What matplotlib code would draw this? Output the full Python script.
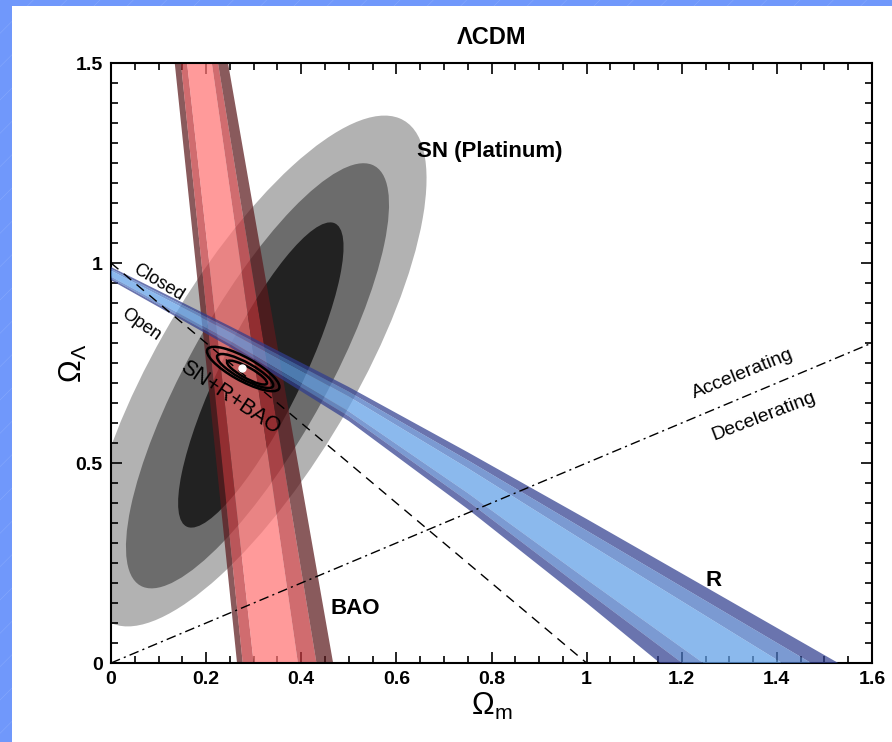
import numpy as np
import matplotlib
matplotlib.use("Agg")
import matplotlib.pyplot as plt
from matplotlib.patches import Ellipse, Polygon, Rectangle
from matplotlib.colors import to_rgb

plt.rcParams['font.family'] = ['Liberation Sans', 'DejaVu Sans']
plt.rcParams['mathtext.fontset'] = 'custom'
plt.rcParams['mathtext.rm'] = 'Liberation Sans'
plt.rcParams['hatch.linewidth'] = 0.4

# SN (Platinum) confidence ellipses: (cx, cy, semi-major, semi-minor, angle deg), outer -> inner
sn_ellipses = [
    (0.305, 0.730, 0.70, 0.215, 64.5),
    (0.308, 0.718, 0.58, 0.150, 65.5),
    (0.315, 0.720, 0.41, 0.088, 68.0),
]
sn_colors = ['#b2b2b2', '#6c6c6c', '#222222']

# BAO band: edge x-positions (left to right) at each y
bao_y = [0.0, 0.75, 1.5]
bao_edges = [
    [0.265, 0.200, 0.134],
    [0.277, 0.212, 0.147],
    [0.300, 0.230, 0.160],
    [0.393, 0.302, 0.212],
    [0.432, 0.328, 0.225],
    [0.467, 0.356, 0.246],
]
bao_colors = ['#8a5a5c', '#d06c70', '#ff9a9a', '#d06c70', '#8a5a5c']

# R (CMB shift) band: edges as (x, y) polylines from the top-left down to the x axis, upper -> lower
r_edges = [
    [(0.0, 0.990), (0.25, 0.842), (0.5, 0.690), (0.75, 0.527), (1.0, 0.360), (1.25, 0.190), (1.529, 0.0)],
    [(0.0, 0.9855), (0.25, 0.835), (0.5, 0.678), (0.75, 0.507), (1.0, 0.331), (1.472, 0.0)],
    [(0.0, 0.981), (0.25, 0.827), (0.5, 0.666), (0.75, 0.487), (1.0, 0.301), (1.411, 0.0)],
    [(0.0, 0.966), (0.25, 0.805), (0.5, 0.629), (0.75, 0.425), (1.0, 0.209), (1.245, 0.0)],
    [(0.0, 0.9615), (0.25, 0.797), (0.5, 0.617), (0.75, 0.405), (1.0, 0.179), (1.201, 0.0)],
    [(0.0, 0.957), (0.25, 0.790), (0.5, 0.605), (0.75, 0.385), (1.0, 0.150), (1.154, 0.0)],
]
r_colors = ['#6a74ae', '#7b9bd2', '#8cb9ee', '#7b9bd2', '#6a74ae']

# combined SN+R+BAO contours
combo_ellipses = [
    (0.278, 0.735, 0.090, 0.028, -34.0),
    (0.282, 0.730, 0.070, 0.020, -34.0),
    (0.286, 0.726, 0.050, 0.013, -34.0),
]
best_fit = (0.275, 0.737)

flat_x = [0.0, 1.0]
flat_y = [1.0, 0.0]
acc_x = [0.0, 1.6]
acc_y = [0.0, 0.8]

ALPHA = 0.72


def over_white(c, alpha=ALPHA):
    # colour that gives c when blended over white with this alpha
    rgb = np.array(to_rgb(c))
    return tuple(np.clip((rgb - (1 - alpha)) / alpha, 0, 1))


fig = plt.figure(figsize=(8.92, 7.42), dpi=100)
fig.patches.append(Rectangle((0, 0), 1, 1, transform=fig.transFigure, facecolor='#7098fb',
                             edgecolor='#86a8fc', hatch='/', linewidth=0, zorder=-10))
fig.patches.append(Rectangle((12 / 892, 0), 1, 736 / 742, transform=fig.transFigure,
                             facecolor='white', edgecolor='none', zorder=-9))

ax = fig.add_axes([111 / 892, 79 / 742, 761 / 892, 600 / 742])
ax.set_facecolor('none')

for (cx, cy, a, b, ang), col in zip(sn_ellipses, sn_colors):
    ax.add_patch(Ellipse((cx, cy), 2 * a, 2 * b, angle=ang, facecolor=col, edgecolor='none', zorder=1))

for i, col in enumerate(bao_colors):
    ax.fill_betweenx(bao_y, bao_edges[i], bao_edges[i + 1], facecolor=over_white(col),
                     alpha=ALPHA, edgecolor='none', zorder=2)

for i, col in enumerate(r_colors):
    pts = list(r_edges[i]) + list(reversed(r_edges[i + 1]))
    ax.add_patch(Polygon(pts, closed=True, facecolor=over_white(col), alpha=ALPHA,
                         edgecolor='none', zorder=3))

for cx, cy, a, b, ang in combo_ellipses:
    ax.add_patch(Ellipse((cx, cy), 2 * a, 2 * b, angle=ang, facecolor='none',
                         edgecolor='black', linewidth=1.8, zorder=5))
ax.plot(*best_fit, 'o', color='white', markersize=5, zorder=6)

ax.plot(flat_x, flat_y, color='black', linestyle=(0, (7, 5)), linewidth=1.0, zorder=4)
ax.plot(acc_x, acc_y, color='black', linestyle=(0, (7, 3, 1.5, 3)), linewidth=1.0, zorder=4)

ax.text(0.797, 1.2775, 'SN (Platinum)', fontsize=16, fontweight='bold', ha='center', va='center')
ax.text(1.266, 0.2075, 'R', fontsize=16, fontweight='bold', ha='center', va='center')
ax.text(0.513, 0.1375, 'BAO', fontsize=16, fontweight='bold', ha='center', va='center')
ax.text(0.25, 0.6625, 'SN+R+BAO', fontsize=15.5, ha='center', va='center', rotation=-34, zorder=7)
ax.text(0.099, 0.950, 'Closed', fontsize=13, ha='center', va='center', rotation=-31)
ax.text(0.063, 0.845, 'Open', fontsize=13, ha='center', va='center', rotation=-35)
ax.text(1.329, 0.7225, 'Accelerating', fontsize=14, ha='center', va='center', rotation=22)
ax.text(1.373, 0.6175, 'Decelerating', fontsize=14, ha='center', va='center', rotation=21)

ax.set_xlim(0, 1.6)
ax.set_ylim(0, 1.5)
ax.set_xticks(np.arange(0, 1.61, 0.2))
ax.set_xticklabels(['0', '0.2', '0.4', '0.6', '0.8', '1', '1.2', '1.4', '1.6'])
ax.set_xticks(np.arange(0, 1.61, 0.05), minor=True)
ax.set_yticks([0, 0.5, 1, 1.5])
ax.set_yticklabels(['0', '0.5', '1', '1.5'])
ax.set_yticks(np.arange(0, 1.51, 0.05), minor=True)
ax.tick_params(which='both', direction='in', top=True, right=True, width=1.2)
ax.tick_params(which='major', length=8, labelsize=14, pad=6)
ax.tick_params(which='minor', length=5)
for lab in ax.get_xticklabels() + ax.get_yticklabels():
    lab.set_fontweight('bold')
for sp in ax.spines.values():
    sp.set_linewidth(1.5)

ax.set_title('ΛCDM', fontsize=17, fontweight='bold', pad=14)
ax.set_xlabel(r'$\mathregular{\Omega_m}$', fontsize=22, labelpad=2)
ax.set_ylabel(r'$\mathregular{\Omega_\Lambda}$', fontsize=22, labelpad=-10)

fig.savefig('out.png', dpi=100)
